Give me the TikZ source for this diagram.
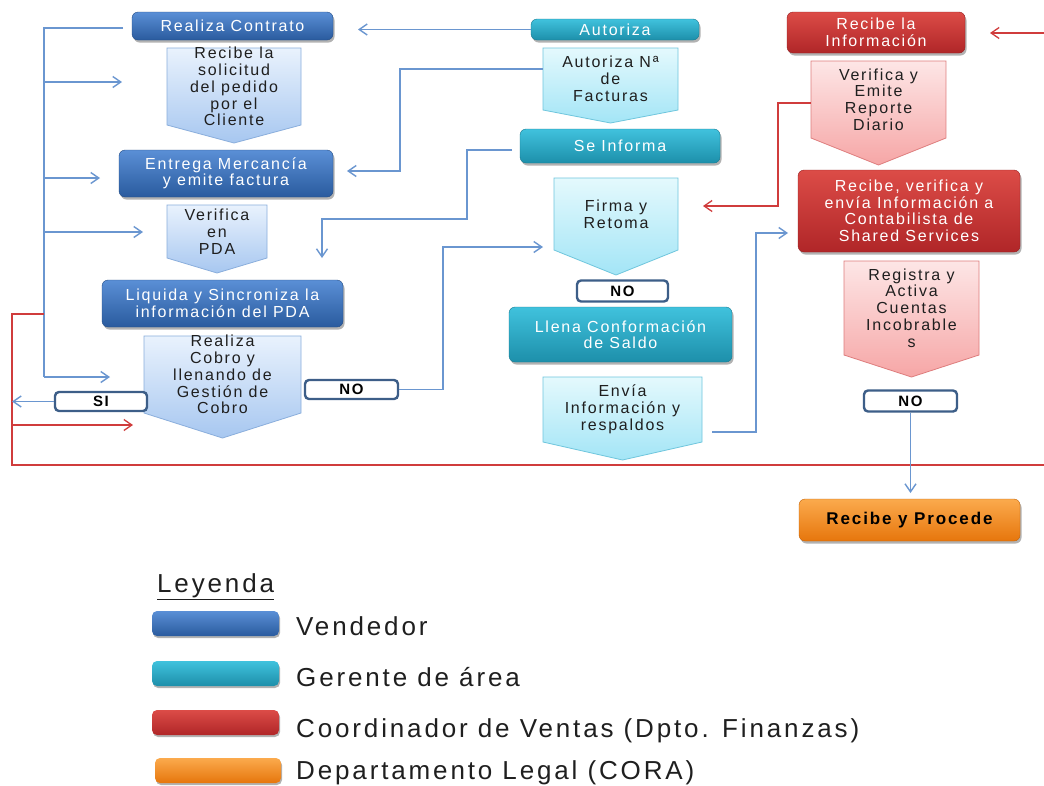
\documentclass[tikz,border=0pt]{standalone}
\usepackage{fontspec}
\setmainfont{Liberation Sans}[LetterSpace=11]
\usetikzlibrary{arrows.meta,shadows}
\definecolor{lnblue}{HTML}{6A96D0}
\definecolor{lnred}{HTML}{D03C3C}
\definecolor{lblbord}{HTML}{3D5E88}
\definecolor{vendT}{HTML}{5A8FD6}
\definecolor{vendB}{HTML}{2A5B9E}
\definecolor{gerT}{HTML}{40C2DD}
\definecolor{gerB}{HTML}{1D8FAA}
\definecolor{coorT}{HTML}{DC4C47}
\definecolor{coorB}{HTML}{B02628}
\definecolor{legT}{HTML}{FBAA4D}
\definecolor{legB}{HTML}{E6760C}
\definecolor{chvbT}{HTML}{E9F2FD}
\definecolor{chvbB}{HTML}{A7C7F0}
\definecolor{chvbD}{HTML}{8AAEDC}
\definecolor{chvcT}{HTML}{E4F9FD}
\definecolor{chvcB}{HTML}{A3E5F6}
\definecolor{chvcD}{HTML}{6FC6DD}
\definecolor{chvpT}{HTML}{FDE6E6}
\definecolor{chvpB}{HTML}{F6A6A6}
\definecolor{chvpD}{HTML}{DE7D7D}
\tikzset{
  bx/.style={rounded corners=6pt, inner sep=1pt, align=center, text=white,
    font=\fontsize{16}{16.5}\selectfont,
    drop shadow={shadow xshift=1.5pt, shadow yshift=-2.5pt, opacity=0.3, fill=black}},
  vend/.style={bx, top color=vendT, bottom color=vendB, draw=vendB!85!black},
  ger/.style={bx, top color=gerT, bottom color=gerB, draw=gerB!85!black},
  coor/.style={bx, top color=coorT, bottom color=coorB, draw=coorB!85!black},
  legal/.style={bx, top color=legT, bottom color=legB, draw=legB!85!black, text=black,
    font=\fontsize{17}{19}\bfseries\selectfont},
  chevtext/.style={inner sep=0pt, align=center, text=black!88, font=\fontsize{16}{16.8}\selectfont},
  chvblue/.style={top color=chvbT, bottom color=chvbB, draw=chvbD, line width=0.8pt},
  chvcyan/.style={top color=chvcT, bottom color=chvcB, draw=chvcD, line width=0.8pt},
  chvpink/.style={top color=chvpT, bottom color=chvpB, draw=chvpD, line width=0.8pt},
  lbl/.style={rounded corners=4pt, draw=lblbord, line width=2.4pt, fill=white, inner sep=0pt,
    font=\fontsize{15}{17}\bfseries\selectfont, text=black},
  bl/.style={draw=lnblue, line width=1.4pt},
  rd/.style={draw=lnred, line width=1.3pt},
  >={Straight Barb[length=8pt,width=11pt]},
  sw/.style={rounded corners=5pt, drop shadow={shadow xshift=1pt, shadow yshift=-2pt, opacity=0.3, fill=black}},
  legtext/.style={anchor=west, inner sep=0pt, font=\fontsize{26}{28}\selectfont, text=black!88}
}
% name, x1, y1, x2, y2 (rect bottom), ypoint, style, text
\newcommand\mychev[8]{%
  \path[#7] (#2,#3) -- (#4,#3) -- (#4,#5) -- ({(#2+#4)/2},#6) -- (#2,#5) -- cycle;
  \node[chevtext, minimum width={(#4-#2)*1pt}, minimum height={(#5-#3)*1pt}]
    (#1) at ({(#2+#4)/2},{(#3+#5)/2}) {#8};
}
\begin{document}
\begin{tikzpicture}[x=1pt,y=-1pt]
\useasboundingbox[fill=white] (0,0) rectangle (1044,785);

% ---------- connectors under the shapes ----------
\draw[bl] (123,28) -- (44,28) -- (44,377);
\draw[bl,->] (44,82) -- (122,82);
\draw[bl,->] (44,178) -- (100,178);
\draw[bl,->] (44,232) -- (143,232);
\draw[bl,->] (44,377) -- (110,377);
\draw[rd] (1044,465) -- (12,465) -- (12,314) -- (44,314);
\draw[rd,->] (12,425) -- (133,425);
\draw[rd,->] (1044,33) -- (990,33);

% ---------- Vendedor ----------
\node[vend, minimum width=201pt, minimum height=28pt] (contrato) at (232.5,26) {Realiza Contrato};
\mychev{solicitud}{167}{48}{301}{125}{143}{chvblue}{Recibe la\\solicitud\\del pedido\\por el\\Cliente}
\node[vend, minimum width=214pt, minimum height=47pt] (entrega) at (226,173.5) {Entrega Mercancía\\y emite factura};
\mychev{verifica}{167}{205}{267}{258}{273}{chvblue}{Verifica\\en\\PDA}
\node[vend, minimum width=241pt, minimum height=47pt] (liquida) at (222.5,303.5) {Liquida y Sincroniza la\\información del PDA};
\mychev{cobro}{144}{336}{301}{413}{438}{chvblue}{Realiza\\Cobro y\\llenando de\\Gestión de\\Cobro}

% ---------- Gerente ----------
\node[ger, minimum width=168pt, minimum height=21pt] (autoriza) at (615,29.5) {Autoriza};
\mychev{autnum}{543}{48}{678}{110}{123}{chvcyan}{Autoriza Nª\\de\\Facturas}
\node[ger, minimum width=200pt, minimum height=34pt] (seinforma) at (620,146) {Se Informa};
\mychev{firma}{554}{178}{678}{250}{275}{chvcyan}{Firma y\\Retoma}
\node[ger, minimum width=223pt, minimum height=55pt] (llena) at (620.5,334.5) {Llena Conformación\\de Saldo};
\mychev{envia}{543}{377}{702}{442}{460}{chvcyan}{Envía\\Información y\\respaldos}

% ---------- Coordinador ----------
\node[coor, minimum width=178pt, minimum height=41pt] (recibeinfo) at (876,32.5) {Recibe la\\Información};
\mychev{verrep}{811}{61}{946}{138}{165}{chvpink}{Verifica y\\Emite\\Reporte\\Diario}
\node[coor, minimum width=222pt, minimum height=82pt] (recibever) at (909,211) {Recibe, verifica y\\envía Información a\\Contabilista de\\Shared Services};
\mychev{registra}{844}{261}{979}{355}{377}{chvpink}{Registra y\\Activa\\Cuentas\\Incobrable\\s}

% ---------- Legal ----------
\node[legal, minimum width=221pt, minimum height=42pt] (procede) at (909.5,520) {Recibe y Procede};

% ---------- labels ----------
\node[lbl, minimum width=92pt, minimum height=19pt] (si) at (101,401.5) {SI};
\node[lbl, minimum width=93pt, minimum height=19pt] (noleft) at (351.5,389.5) {NO};
\node[lbl, minimum width=91pt, minimum height=21pt] (nomid) at (622.5,291) {NO};
\node[lbl, minimum width=93pt, minimum height=21pt] (noright) at (910.5,401) {NO};

% ---------- other connectors ----------
\draw[bl,->] (si.west) -- (12,401.5);
\draw[bl,->] (autoriza.west) -- (358,29.5);
\draw[bl,->] ([yshift=10pt]autnum.west) -- (400,69) -- (400,171) -- (347,171);
\draw[bl,->] (512,150) -- (467,150) -- (467,219) -- (322,219) -- (322,258);
\draw[bl,->] (noleft.east) -- (443,389.5) -- (443,247) -- (543,247);
\draw[bl,->] (712,432) -- (756,432) -- (756,233) -- (788,233);
\draw[bl,->] (noright.south) -- (noright.south |- 0,493);
\draw[rd,->] ([yshift=-3.5pt]verrep.west) -- (778,103) -- (778,206) -- (703,206);

% ---------- legend ----------
\node[anchor=west, inner sep=0pt, font=\fontsize{26}{28}\selectfont, text=black!88] (leyenda) at (157,587) {\underline{Leyenda}};
\path[sw, top color=vendT, bottom color=vendB] (152,611) rectangle (279,636);
\node[legtext] (lv) at (296,626) {Vendedor};
\path[sw, top color=gerT, bottom color=gerB] (152,661) rectangle (279,686);
\node[legtext] (lg) at (296,677) {Gerente de área};
\path[sw, top color=coorT, bottom color=coorB] (152,710) rectangle (279,735);
\node[legtext] (lc) at (296,731) {Coordinador de Ventas (Dpto. Finanzas)};
\path[sw, top color=legT, bottom color=legB] (155,758) rectangle (281,783);
\node[legtext] (ll) at (296,773) {Departamento Legal (CORA)};
\end{tikzpicture}
\end{document}
